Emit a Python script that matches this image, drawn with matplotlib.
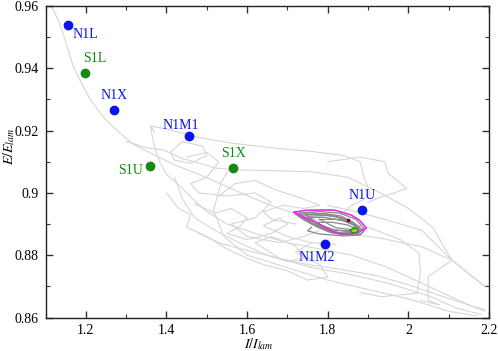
import matplotlib
matplotlib.use("Agg")
import matplotlib.pyplot as plt
from matplotlib.ticker import MultipleLocator, FuncFormatter

plt.rcParams['font.family'] = 'serif'
plt.rcParams['font.serif'] = ['Liberation Serif', 'DejaVu Serif']
plt.rcParams['mathtext.fontset'] = 'stix'

# ---- labelled points ----
blue_names = ["N1L", "N1X", "N1M1", "N1U", "N1M2"]
blue_x = [1.155, 1.271, 1.456, 1.886, 1.794]
blue_y = [0.954, 0.9266, 0.9182, 0.8946, 0.8837]
green_names = ["S1L", "S1U", "S1X"]
green_x = [1.197, 1.359, 1.566]
green_y = [0.9385, 0.9086, 0.9079]

# ---- light grey trajectories ----
trajA_x = [1.114, 1.13, 1.144, 1.156, 1.169, 1.19, 1.211, 1.245, 1.286, 1.32, 1.36, 1.42, 1.485, 1.55, 1.62, 1.68, 1.73, 1.78]
trajA_y = [0.960, 0.956, 0.951, 0.946, 0.9405, 0.935, 0.930, 0.924, 0.919, 0.9155, 0.9128, 0.909, 0.9057, 0.902, 0.898, 0.895, 0.893, 0.891]
trajB_x = [1.37, 1.36, 1.40, 1.48, 1.56, 1.66, 1.76, 1.84, 1.88, 1.89, 1.905, 1.89, 1.86, 1.83]
trajB_y = [0.9195, 0.9215, 0.9205, 0.9178, 0.916, 0.9145, 0.9133, 0.912, 0.910, 0.905, 0.900, 0.898, 0.896, 0.893]
trajC_x = [1.36, 1.365, 1.372, 1.383, 1.40, 1.435, 1.47, 1.50, 1.55, 1.62, 1.70, 1.78, 1.86, 1.95, 2.05, 2.15, 2.19]
trajC_y = [0.9215, 0.918, 0.914, 0.910, 0.906, 0.902, 0.8975, 0.894, 0.890, 0.887, 0.884, 0.882, 0.880, 0.876, 0.870, 0.864, 0.862]
trajD_x = [1.30, 1.35, 1.392, 1.44, 1.477, 1.52, 1.567, 1.65, 1.759, 1.85, 1.93, 2.0, 2.06, 2.108, 2.19]
trajD_y = [0.9165, 0.9145, 0.9138, 0.911, 0.9097, 0.908, 0.9074, 0.9072, 0.9068, 0.905, 0.900, 0.895, 0.889, 0.8784, 0.870]
trajE_x = [1.45, 1.50, 1.53, 1.50, 1.46, 1.48, 1.55, 1.62, 1.66, 1.62, 1.56, 1.60, 1.68, 1.74, 1.78]
trajE_y = [0.9115, 0.913, 0.910, 0.905, 0.903, 0.900, 0.899, 0.900, 0.897, 0.892, 0.890, 0.886, 0.884, 0.886, 0.888]
trajF_x = [1.42, 1.44, 1.47, 1.52, 1.58, 1.65, 1.70, 1.74, 1.72, 1.66, 1.62, 1.68, 1.76, 1.85, 1.95, 2.05, 2.12, 2.18]
trajF_y = [0.905, 0.898, 0.892, 0.888, 0.884, 0.880, 0.878, 0.879, 0.883, 0.886, 0.884, 0.879, 0.876, 0.874, 0.871, 0.867, 0.863, 0.861]
trajG_x = [1.551, 1.535, 1.517, 1.542, 1.60, 1.70, 1.80, 1.90, 2.0, 2.1, 2.17]
trajG_y = [0.9068, 0.9032, 0.8945, 0.886, 0.880, 0.876, 0.872, 0.869, 0.866, 0.862, 0.8605]
trajH_x = [1.80, 1.87, 1.933, 2.033, 2.108, 2.190]
trajH_y = [0.896, 0.894, 0.8918, 0.8880, 0.8784, 0.8699]
trajI_x = [1.85, 1.933, 2.033, 2.108, 2.049, 2.049, 2.078, 2.03]
trajI_y = [0.887, 0.8854, 0.8827, 0.8784, 0.8731, 0.8656, 0.8640, 0.8655]
trajJ_x = [1.90, 1.98, 2.026, 2.03, 2.022, 1.933, 1.88]
trajJ_y = [0.889, 0.885, 0.8807, 0.875, 0.8678, 0.8667, 0.868]
trajK_x = [1.80, 1.88, 1.941, 1.950, 1.995, 1.966, 1.933, 1.90]
trajK_y = [0.910, 0.9115, 0.9100, 0.9063, 0.9015, 0.9000, 0.8988, 0.897]
trajL_x = [1.40, 1.43, 1.46, 1.45, 1.50, 1.55, 1.60, 1.64, 1.70, 1.75, 1.80, 1.78, 1.72, 1.76]
trajL_y = [0.900, 0.895, 0.893, 0.889, 0.886, 0.882, 0.879, 0.877, 0.875, 0.872, 0.873, 0.877, 0.881, 0.884]
trajM_x = [1.41, 1.44, 1.49, 1.50, 1.46, 1.42, 1.41]
trajM_y = [0.913, 0.9165, 0.915, 0.912, 0.9095, 0.9105, 0.913]
trajN_x = [1.47, 1.52, 1.56, 1.60, 1.58, 1.55, 1.60, 1.66, 1.70, 1.68, 1.64, 1.70, 1.76, 1.82]
trajN_y = [0.8965, 0.8935, 0.8950, 0.8920, 0.8890, 0.8870, 0.8850, 0.8870, 0.8900, 0.8920, 0.8895, 0.8860, 0.8840, 0.8835]
trajO_x = [1.53, 1.57, 1.62, 1.67, 1.73, 1.78, 1.74, 1.69, 1.64, 1.66, 1.72]
trajO_y = [0.8990, 0.9030, 0.9040, 0.9010, 0.8985, 0.8960, 0.8950, 0.8960, 0.8940, 0.8915, 0.8900]
trajP_x = [1.48, 1.53, 1.60, 1.68, 1.75, 1.83, 1.92, 2.00, 2.08, 2.15, 2.19]
trajP_y = [0.8870, 0.8840, 0.8815, 0.8790, 0.8770, 0.8755, 0.8735, 0.8705, 0.8670, 0.8640, 0.8625]
light_trajs = [(trajA_x, trajA_y), (trajB_x, trajB_y), (trajC_x, trajC_y), (trajD_x, trajD_y),
               (trajE_x, trajE_y), (trajF_x, trajF_y), (trajG_x, trajG_y), (trajH_x, trajH_y),
               (trajI_x, trajI_y), (trajJ_x, trajJ_y), (trajK_x, trajK_y), (trajL_x, trajL_y),
               (trajM_x, trajM_y), (trajN_x, trajN_y), (trajO_x, trajO_y), (trajP_x, trajP_y)]

# ---- dark grey attractor loops ----
dg1_x = [1.73, 1.78, 1.83, 1.87, 1.89, 1.87, 1.83, 1.80, 1.76, 1.73]
dg1_y = [0.8935, 0.8940, 0.8935, 0.8915, 0.8885, 0.8872, 0.8872, 0.8882, 0.8905, 0.8935]
dg2_x = [1.75, 1.80, 1.85, 1.88, 1.86, 1.82, 1.78, 1.75]
dg2_y = [0.8925, 0.8928, 0.8915, 0.8890, 0.8878, 0.8880, 0.8897, 0.8925]
dg3_x = [1.78, 1.83, 1.87, 1.86, 1.82, 1.78]
dg3_y = [0.8915, 0.8915, 0.8895, 0.8882, 0.8888, 0.8915]
dg4_x = [1.76, 1.75, 1.78, 1.84, 1.88, 1.89]
dg4_y = [0.8890, 0.8878, 0.8868, 0.8862, 0.8865, 0.8878]
dg5_x = [1.72, 1.76, 1.81, 1.86, 1.885, 1.875, 1.84, 1.80, 1.77, 1.74, 1.72]
dg5_y = [0.8932, 0.8936, 0.8930, 0.8908, 0.8882, 0.8868, 0.8866, 0.8876, 0.8893, 0.8914, 0.8932]
dg6_x = [1.74, 1.79, 1.84, 1.875, 1.89, 1.88, 1.85, 1.81, 1.78, 1.74]
dg6_y = [0.8920, 0.8922, 0.8910, 0.8892, 0.8878, 0.8866, 0.8864, 0.8872, 0.8888, 0.8920]
dg7_x = [1.77, 1.81, 1.85, 1.87, 1.85, 1.81, 1.77]
dg7_y = [0.8905, 0.8906, 0.8897, 0.8884, 0.8876, 0.8882, 0.8905]
dg8_x = [1.725, 1.77, 1.82, 1.855, 1.88, 1.87, 1.835, 1.79, 1.755, 1.725]
dg8_y = [0.8928, 0.8931, 0.8924, 0.8905, 0.8880, 0.8870, 0.8869, 0.8885, 0.8905, 0.8928]
dg9_x = [1.745, 1.79, 1.835, 1.865, 1.88, 1.86, 1.82, 1.785, 1.745]
dg9_y = [0.8930, 0.8934, 0.8925, 0.8902, 0.8876, 0.8867, 0.8870, 0.8890, 0.8930]
dark_trajs = [(dg1_x, dg1_y), (dg2_x, dg2_y), (dg3_x, dg3_y), (dg4_x, dg4_y),
              (dg5_x, dg5_y), (dg6_x, dg6_y), (dg7_x, dg7_y), (dg8_x, dg8_y),
              (dg9_x, dg9_y)]

# ---- magenta periodic orbit ----
mag_x = [1.717, 1.745, 1.775, 1.816, 1.858, 1.878, 1.896, 1.871, 1.833, 1.808, 1.775, 1.734, 1.717]
mag_y = [0.8938, 0.8944, 0.8945, 0.8945, 0.8929, 0.8913, 0.8887, 0.8871, 0.8868, 0.8878, 0.8903, 0.8925, 0.8938]

# ---- small green / yellow orbit ----
grn_x = [1.855, 1.865, 1.875, 1.872, 1.860, 1.855]
grn_y = [0.8880, 0.8888, 0.8884, 0.8874, 0.8872, 0.8880]
yel_x = [1.862, 1.870, 1.868, 1.862]
yel_y = [0.8878, 0.8882, 0.8876, 0.8878]

fig = plt.figure(figsize=(4.98, 3.51), dpi=100)
ax = fig.add_axes([0.0914, 0.0954, 0.8906, 0.8876])

for tx, ty in light_trajs:
    ax.plot(tx, ty, color='#d6d6d6', lw=0.8, zorder=1)
for tx, ty in dark_trajs:
    ax.plot(tx, ty, color='#8a8a8a', lw=0.9, zorder=2)
ax.plot(mag_x, mag_y, color='#e030e0', lw=1.2, zorder=3)
ax.plot(grn_x, grn_y, color='#1a9a1a', lw=1.0, zorder=4)
ax.plot(yel_x, yel_y, color='#d0c000', lw=0.9, zorder=5)
ax.plot([1.850], [0.8913], marker='s', ms=1.5, color='#800020', zorder=5)

ax.plot(blue_x, blue_y, 'o', color='#0a14f0', ms=6, zorder=6)
ax.plot(green_x, green_y, 'o', color='#138a13', ms=6, zorder=6)

blue_off = {"N1L": (0.012, -0.003, 'left', 'center'),
            "N1X": (0.0, 0.0025, 'center', 'bottom'),
            "N1M1": (-0.02, 0.0015, 'center', 'bottom'),
            "N1U": (0.0, 0.0025, 'center', 'bottom'),
            "N1M2": (-0.02, -0.0025, 'center', 'top')}
green_off = {"S1L": (0.024, 0.0025, 'center', 'bottom'),
             "S1U": (-0.018, -0.0013, 'right', 'center'),
             "S1X": (0.0, 0.0025, 'center', 'bottom')}
for n, x, y in zip(blue_names, blue_x, blue_y):
    dx, dy, ha, va = blue_off[n]
    ax.text(x + dx, y + dy, n, color='#0a14f0', fontsize=10, ha=ha, va=va, zorder=7)
for n, x, y in zip(green_names, green_x, green_y):
    dx, dy, ha, va = green_off[n]
    ax.text(x + dx, y + dy, n, color='#138a13', fontsize=10, ha=ha, va=va, zorder=7)

ax.set_xlim(1.1, 2.2)
ax.set_ylim(0.86, 0.96)
ax.xaxis.set_major_locator(MultipleLocator(0.2))
ax.xaxis.set_minor_locator(MultipleLocator(0.1))
ax.yaxis.set_major_locator(MultipleLocator(0.02))
ax.yaxis.set_minor_locator(MultipleLocator(0.01))
fmt = FuncFormatter(lambda v, p: '%g' % round(v, 4))
ax.xaxis.set_major_formatter(fmt)
ax.yaxis.set_major_formatter(fmt)
ax.tick_params(which='both', direction='in', top=True, right=True, color='#333333', labelsize=10)
ax.tick_params(which='major', length=5, width=1, pad=5)
ax.tick_params(which='minor', length=3, width=0.8)
for s in ax.spines.values():
    s.set_linewidth(1.0)
    s.set_color('#222222')

ax.set_xlabel(r'$I/I_{lam}$', fontsize=10)
ax.set_ylabel(r'$E/E_{lam}$', fontsize=10)
ax.xaxis.set_label_coords(0.48, -0.06)
ax.yaxis.set_label_coords(-0.065, 0.55)

fig.savefig('out.png', dpi=100)
